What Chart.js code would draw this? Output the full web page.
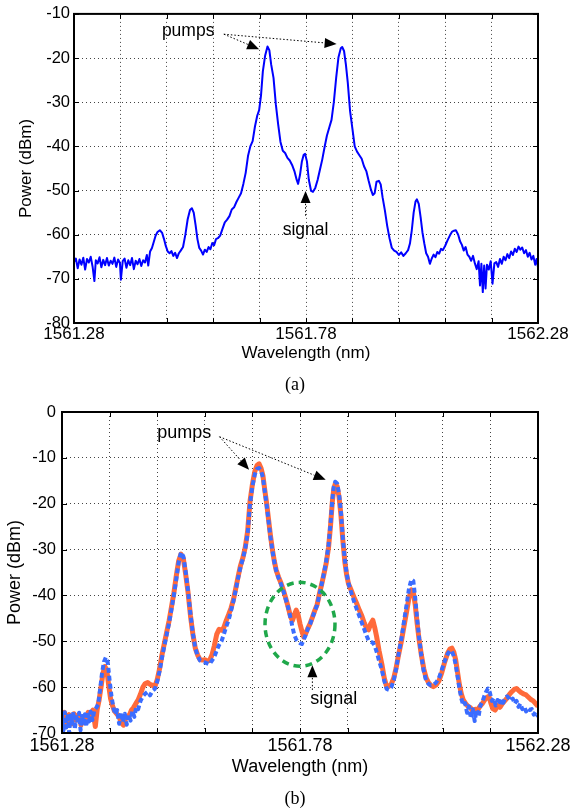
<!DOCTYPE html>
<html>
<head>
<meta charset="utf-8">
<script src="https://cdn.jsdelivr.net/npm/chart.js@4.4.0/dist/chart.umd.min.js"></script>
<style>
  html, body { margin: 0; padding: 0; background: #fff; }
  #page { position: relative; width: 574px; height: 810px; overflow: hidden; }
  canvas { position: absolute; left: 0; }
  .cap { position: absolute; width: 60px; text-align: center; font-family: "Liberation Serif", serif; font-size: 18px; line-height: 20px; color: #000; }
</style>
</head>
<body>
<div id="page">
  <canvas id="chartA" width="574" height="395" style="top:0"></canvas>
  <div class="cap" style="left:265px; top:374px">(a)</div>
  <canvas id="chartB" width="574" height="415" style="top:395px"></canvas>
  <div class="cap" style="left:265px; top:788px">(b)</div>
</div>
<script>
// ---- data ----
// x tick labels (grid every 0.1 nm in between)
const xTickLabels = [1561.28, 1561.78, 1562.28];
const yRangeA = [-80, -10];
const yRangeB = [-70, 0];

// (a) measured spectrum
const wlA = [
  1561.280, 1561.284, 1561.288, 1561.292, 1561.296, 1561.300, 1561.304, 1561.308, 1561.312, 1561.316,
  1561.320, 1561.324, 1561.327, 1561.331, 1561.335, 1561.339, 1561.343, 1561.347, 1561.351, 1561.355,
  1561.359, 1561.363, 1561.367, 1561.371, 1561.375, 1561.379, 1561.381, 1561.385, 1561.389, 1561.393,
  1561.397, 1561.401, 1561.405, 1561.409, 1561.413, 1561.417, 1561.421, 1561.425, 1561.429, 1561.433,
  1561.437, 1561.440, 1561.444, 1561.448, 1561.452, 1561.456, 1561.460, 1561.465, 1561.470, 1561.474,
  1561.478, 1561.482, 1561.486, 1561.490, 1561.494, 1561.498, 1561.502, 1561.506, 1561.510, 1561.515,
  1561.520, 1561.525, 1561.530, 1561.534, 1561.538, 1561.542, 1561.546, 1561.550, 1561.554, 1561.558,
  1561.562, 1561.566, 1561.570, 1561.574, 1561.578, 1561.582, 1561.586, 1561.590, 1561.595, 1561.600,
  1561.605, 1561.610, 1561.615, 1561.620, 1561.625, 1561.630, 1561.635, 1561.640, 1561.645, 1561.650,
  1561.655, 1561.660, 1561.665, 1561.670, 1561.675, 1561.679, 1561.683, 1561.687, 1561.692, 1561.697,
  1561.701, 1561.705, 1561.710, 1561.715, 1561.720, 1561.725, 1561.730, 1561.735, 1561.740, 1561.745,
  1561.750, 1561.755, 1561.760, 1561.763, 1561.767, 1561.771, 1561.775, 1561.778, 1561.782, 1561.786,
  1561.791, 1561.795, 1561.800, 1561.805, 1561.810, 1561.815, 1561.820, 1561.825, 1561.830, 1561.835,
  1561.840, 1561.845, 1561.850, 1561.855, 1561.858, 1561.862, 1561.866, 1561.870, 1561.875, 1561.880,
  1561.885, 1561.890, 1561.895, 1561.900, 1561.905, 1561.910, 1561.915, 1561.920, 1561.924, 1561.928,
  1561.932, 1561.937, 1561.941, 1561.945, 1561.950, 1561.955, 1561.960, 1561.965, 1561.970, 1561.975,
  1561.980, 1561.985, 1561.990, 1561.995, 1562.000, 1562.004, 1562.008, 1562.012, 1562.016, 1562.019,
  1562.023, 1562.027, 1562.031, 1562.035, 1562.039, 1562.043, 1562.047, 1562.051, 1562.055, 1562.059,
  1562.063, 1562.067, 1562.071, 1562.075, 1562.080, 1562.085, 1562.090, 1562.095, 1562.099, 1562.103,
  1562.108, 1562.112, 1562.116, 1562.120, 1562.124, 1562.128, 1562.132, 1562.136, 1562.140, 1562.144,
  1562.148, 1562.152, 1562.155, 1562.158, 1562.161, 1562.164, 1562.167, 1562.170, 1562.174, 1562.178,
  1562.182, 1562.186, 1562.190, 1562.194, 1562.198, 1562.202, 1562.206, 1562.210, 1562.214, 1562.218,
  1562.222, 1562.226, 1562.230, 1562.234, 1562.238, 1562.242, 1562.246, 1562.250, 1562.254, 1562.258,
  1562.262, 1562.266, 1562.270, 1562.274, 1562.277, 1562.280
];
const dbmA = [
  -66.2, -65.4, -67.6, -65.6, -66.8, -65.2, -67.9, -65.5, -66.3, -65.0,
  -67.2, -70.5, -65.8, -66.5, -65.1, -67.4, -65.7, -66.9, -65.3, -67.0,
  -65.9, -66.6, -65.2, -67.3, -65.6, -66.4, -70.2, -66.0, -65.4, -67.5,
  -65.8, -66.9, -65.3, -67.8, -65.9, -66.7, -65.5, -67.1, -65.8, -66.3,
  -64.6, -67.0, -63.8, -63.0, -61.6, -60.2, -59.4, -59.0, -59.6, -61.0,
  -62.6, -63.8, -64.2, -63.7, -64.8, -64.1, -65.3, -64.2, -63.6, -62.8,
  -60.0, -56.5, -54.4, -54.0, -55.0, -57.8, -61.0, -63.0, -63.6, -64.5,
  -63.4, -63.9, -62.8, -63.3, -61.9, -62.4, -61.0, -60.8, -60.2, -58.7,
  -57.2, -56.6, -55.8, -54.3, -53.8, -52.6, -51.6, -50.6, -48.5, -46.0,
  -42.2, -40.0, -38.8, -35.5, -33.0, -31.8, -28.5, -23.0, -19.4, -17.4,
  -18.2, -21.5, -24.5, -30.5, -35.0, -39.0, -41.0, -41.5, -42.6, -43.2,
  -44.2, -45.6, -47.6, -48.5, -46.5, -43.5, -41.9, -41.7, -43.4, -47.5,
  -50.1, -50.3, -49.4, -47.6, -45.3, -43.0, -40.2, -37.6, -35.8, -34.0,
  -30.0, -24.5, -19.8, -17.8, -17.5, -18.4, -21.5, -25.5, -32.0, -36.0,
  -40.0, -41.2, -42.0, -42.8, -44.5, -45.6, -47.8, -49.8, -51.0, -50.6,
  -48.0, -47.8, -48.6, -51.5, -54.5, -58.0, -60.8, -63.0, -63.6, -63.9,
  -64.6, -64.0, -64.8, -64.2, -63.5, -62.0, -59.0, -55.0, -52.5, -52.0,
  -53.0, -56.0, -59.5, -62.0, -64.2, -65.0, -66.6, -65.4, -64.5, -65.1,
  -63.9, -64.3, -63.2, -63.5, -62.5, -61.3, -60.2, -59.3, -59.1, -59.0,
  -60.0, -61.5, -62.3, -63.6, -62.8, -64.5, -65.0, -65.9, -64.8, -66.5,
  -67.8, -66.0, -71.5, -66.6, -73.0, -67.0, -72.2, -66.8, -67.9, -66.0,
  -71.1, -66.5, -66.2, -67.3, -65.5, -66.6, -65.0, -65.8, -64.4, -65.3,
  -63.8, -64.6, -63.2, -63.9, -62.7, -63.4, -62.9, -64.2, -63.5, -65.0,
  -64.1, -65.6, -64.8, -66.8, -65.5, -67.4
];

// (b) solid orange trace
const wlOrange = [
  1561.280, 1561.285, 1561.290, 1561.295, 1561.300, 1561.305, 1561.310, 1561.315, 1561.320, 1561.325,
  1561.330, 1561.335, 1561.340, 1561.345, 1561.350, 1561.354, 1561.358, 1561.362, 1561.366, 1561.370,
  1561.374, 1561.378, 1561.382, 1561.386, 1561.390, 1561.395, 1561.400, 1561.405, 1561.409, 1561.413,
  1561.418, 1561.422, 1561.426, 1561.430, 1561.435, 1561.440, 1561.445, 1561.450, 1561.455, 1561.460,
  1561.465, 1561.470, 1561.475, 1561.480, 1561.485, 1561.490, 1561.495, 1561.500, 1561.505, 1561.510,
  1561.515, 1561.520, 1561.525, 1561.530, 1561.535, 1561.540, 1561.545, 1561.550, 1561.555, 1561.560,
  1561.565, 1561.570, 1561.575, 1561.580, 1561.585, 1561.590, 1561.595, 1561.600, 1561.605, 1561.610,
  1561.615, 1561.620, 1561.625, 1561.630, 1561.635, 1561.640, 1561.645, 1561.650, 1561.655, 1561.660,
  1561.665, 1561.670, 1561.675, 1561.680, 1561.685, 1561.690, 1561.694, 1561.698, 1561.702, 1561.706,
  1561.710, 1561.714, 1561.718, 1561.722, 1561.726, 1561.730, 1561.735, 1561.740, 1561.745, 1561.750,
  1561.755, 1561.760, 1561.764, 1561.768, 1561.772, 1561.776, 1561.780, 1561.784, 1561.788, 1561.792,
  1561.796, 1561.801, 1561.806, 1561.811, 1561.816, 1561.820, 1561.825, 1561.830, 1561.835, 1561.840,
  1561.844, 1561.848, 1561.851, 1561.854, 1561.858, 1561.862, 1561.866, 1561.870, 1561.874, 1561.878,
  1561.882, 1561.886, 1561.890, 1561.895, 1561.900, 1561.905, 1561.910, 1561.915, 1561.920, 1561.924,
  1561.928, 1561.933, 1561.937, 1561.941, 1561.946, 1561.952, 1561.957, 1561.962, 1561.967, 1561.972,
  1561.977, 1561.982, 1561.987, 1561.993, 1561.998, 1562.004, 1562.009, 1562.014, 1562.018, 1562.022,
  1562.026, 1562.030, 1562.035, 1562.040, 1562.045, 1562.050, 1562.055, 1562.060, 1562.066, 1562.072,
  1562.078, 1562.084, 1562.090, 1562.095, 1562.099, 1562.103, 1562.107, 1562.111, 1562.115, 1562.119,
  1562.123, 1562.128, 1562.133, 1562.138, 1562.143, 1562.148, 1562.153, 1562.158, 1562.163, 1562.168,
  1562.173, 1562.177, 1562.181, 1562.185, 1562.190, 1562.195, 1562.200, 1562.205, 1562.210, 1562.215,
  1562.220, 1562.225, 1562.230, 1562.235, 1562.240, 1562.245, 1562.250, 1562.255, 1562.260, 1562.265,
  1562.270, 1562.275, 1562.280
];
const dbmOrange = [
  -67.0, -65.5, -67.8, -66.0, -68.0, -65.8, -67.2, -66.0, -68.3, -66.4,
  -67.0, -65.5, -66.3, -65.0, -68.6, -64.8, -62.8, -60.0, -57.0, -55.5,
  -56.2, -59.5, -62.5, -64.0, -65.2, -65.8, -66.5, -67.8, -68.3, -67.0,
  -66.4, -66.0, -65.0, -64.5, -63.6, -62.8, -61.5, -60.0, -59.2, -59.0,
  -59.4, -59.6, -59.9, -58.4, -56.0, -53.0, -50.5, -48.0, -45.5, -42.5,
  -39.5, -35.8, -32.5, -31.0, -32.0, -35.5, -39.5, -44.5, -48.5, -51.5,
  -53.0, -54.0, -54.1, -54.0, -54.3, -54.2, -53.0, -51.0, -48.5, -47.4,
  -47.6, -47.0, -45.5, -44.2, -42.8, -41.0, -38.5, -35.9, -33.5, -31.8,
  -29.5, -26.0, -19.5, -15.8, -13.0, -11.6, -11.3, -12.2, -13.8, -17.0,
  -20.0, -23.5, -27.0, -30.0, -32.5, -34.5, -36.0, -37.3, -38.8, -40.6,
  -42.5, -44.6, -45.5, -44.3, -43.2, -44.2, -46.2, -47.8, -49.1, -48.3,
  -47.3, -46.2, -44.8, -43.3, -42.0, -40.0, -37.8, -35.5, -33.0, -29.5,
  -25.0, -19.5, -16.8, -15.7, -16.2, -18.5, -22.5, -28.0, -32.5, -35.5,
  -37.5, -38.5, -39.5, -40.8, -42.0, -43.3, -44.5, -46.0, -47.2, -47.5,
  -46.3, -45.4, -47.0, -49.0, -52.0, -55.0, -58.0, -59.9, -59.8, -59.3,
  -58.0, -55.8, -53.0, -50.0, -47.0, -43.5, -40.5, -38.8, -39.2, -42.0,
  -46.0, -49.5, -53.0, -56.0, -58.0, -59.0, -59.6, -59.9, -59.5, -58.6,
  -56.8, -54.5, -52.6, -51.7, -51.5, -52.3, -54.0, -56.8, -59.5, -61.5,
  -62.8, -63.6, -64.2, -64.5, -65.2, -64.8, -65.0, -64.2, -63.6, -62.8,
  -62.2, -62.0, -63.5, -64.7, -65.0, -64.0, -64.4, -63.6, -63.0, -62.4,
  -61.6, -61.0, -60.5, -60.3, -60.8, -61.2, -61.5, -61.7, -62.2, -62.7,
  -63.0, -63.6, -64.2
];

// (b) dashed blue trace
const wlBlue = [
  1561.280, 1561.283, 1561.286, 1561.289, 1561.292, 1561.295, 1561.298, 1561.301, 1561.304, 1561.307,
  1561.310, 1561.313, 1561.316, 1561.319, 1561.322, 1561.325, 1561.328, 1561.331, 1561.334, 1561.337,
  1561.340, 1561.344, 1561.348, 1561.352, 1561.356, 1561.360, 1561.364, 1561.368, 1561.372, 1561.376,
  1561.380, 1561.384, 1561.388, 1561.392, 1561.396, 1561.400, 1561.404, 1561.408, 1561.412, 1561.416,
  1561.420, 1561.424, 1561.428, 1561.432, 1561.436, 1561.440, 1561.445, 1561.450, 1561.455, 1561.460,
  1561.465, 1561.470, 1561.475, 1561.480, 1561.485, 1561.490, 1561.495, 1561.500, 1561.505, 1561.510,
  1561.515, 1561.520, 1561.525, 1561.530, 1561.535, 1561.540, 1561.545, 1561.550, 1561.555, 1561.560,
  1561.565, 1561.570, 1561.575, 1561.580, 1561.585, 1561.590, 1561.595, 1561.600, 1561.605, 1561.610,
  1561.615, 1561.620, 1561.625, 1561.630, 1561.635, 1561.640, 1561.645, 1561.650, 1561.655, 1561.660,
  1561.665, 1561.670, 1561.675, 1561.680, 1561.685, 1561.690, 1561.694, 1561.698, 1561.702, 1561.706,
  1561.710, 1561.714, 1561.718, 1561.722, 1561.726, 1561.730, 1561.735, 1561.740, 1561.745, 1561.750,
  1561.755, 1561.760, 1561.764, 1561.768, 1561.772, 1561.776, 1561.780, 1561.784, 1561.788, 1561.792,
  1561.796, 1561.801, 1561.806, 1561.811, 1561.816, 1561.820, 1561.825, 1561.830, 1561.835, 1561.840,
  1561.844, 1561.848, 1561.851, 1561.854, 1561.858, 1561.862, 1561.866, 1561.870, 1561.874, 1561.878,
  1561.882, 1561.886, 1561.890, 1561.895, 1561.900, 1561.905, 1561.910, 1561.915, 1561.920, 1561.924,
  1561.928, 1561.933, 1561.937, 1561.941, 1561.946, 1561.952, 1561.957, 1561.962, 1561.967, 1561.972,
  1561.977, 1561.982, 1561.987, 1561.993, 1561.998, 1562.004, 1562.009, 1562.014, 1562.018, 1562.022,
  1562.026, 1562.030, 1562.035, 1562.040, 1562.045, 1562.050, 1562.055, 1562.060, 1562.066, 1562.072,
  1562.078, 1562.084, 1562.090, 1562.095, 1562.099, 1562.103, 1562.107, 1562.111, 1562.115, 1562.119,
  1562.123, 1562.127, 1562.131, 1562.135, 1562.139, 1562.143, 1562.147, 1562.151, 1562.155, 1562.159,
  1562.163, 1562.167, 1562.171, 1562.175, 1562.179, 1562.183, 1562.187, 1562.191, 1562.195, 1562.199,
  1562.203, 1562.207, 1562.211, 1562.215, 1562.219, 1562.223, 1562.227, 1562.231, 1562.235, 1562.239,
  1562.243, 1562.247, 1562.251, 1562.255, 1562.259, 1562.263, 1562.267, 1562.271, 1562.275, 1562.280
];
const dbmBlue = [
  -66.0, -69.5, -65.5, -68.8, -65.8, -70.0, -66.2, -68.5, -65.4, -69.2,
  -66.0, -68.0, -65.6, -69.4, -66.3, -67.8, -65.9, -68.6, -66.0, -67.5,
  -65.3, -67.2, -65.0, -64.5, -63.8, -60.5, -57.0, -54.5, -53.5, -54.5,
  -58.5, -62.0, -64.5, -66.0, -65.0, -68.0, -65.5, -67.6, -65.8, -68.2,
  -66.0, -67.3, -65.2, -66.5, -64.3, -64.8, -63.0, -62.0, -61.4, -61.0,
  -61.8, -60.8, -60.4, -58.8, -56.5, -53.6, -51.0, -48.5, -46.0, -43.0,
  -40.0, -36.5, -32.8, -30.6, -31.5, -35.0, -39.2, -44.2, -48.3, -51.5,
  -53.2, -54.2, -54.5, -54.6, -54.8, -55.0, -54.2, -53.4, -52.0, -50.8,
  -50.0, -48.5, -46.8, -45.4, -43.4, -41.3, -38.8, -36.2, -33.8, -32.0,
  -29.8, -26.5, -20.0, -16.2, -13.6, -12.4, -12.2, -12.8, -14.2, -17.3,
  -20.3, -23.8, -27.3, -30.2, -32.7, -34.6, -36.2, -37.5, -39.0, -40.8,
  -42.6, -44.8, -46.8, -48.6, -49.6, -50.1, -50.4, -50.6, -49.6, -48.6,
  -47.4, -46.3, -44.9, -43.4, -42.1, -40.2, -37.8, -35.3, -32.6, -29.0,
  -24.5, -19.0, -16.2, -15.2, -15.6, -17.8, -21.8, -27.5, -32.0, -35.2,
  -37.4, -38.8, -40.2, -41.8, -43.2, -44.6, -46.0, -47.4, -48.8, -49.8,
  -50.1, -50.3, -51.0, -52.3, -54.2, -56.3, -58.6, -60.4, -60.6, -60.0,
  -58.5, -56.0, -52.8, -49.5, -46.0, -42.0, -38.5, -36.5, -36.8, -40.5,
  -45.0, -49.0, -53.2, -56.5, -58.6, -59.3, -59.6, -59.5, -59.0, -58.0,
  -56.2, -54.3, -52.8, -52.0, -52.2, -53.2, -55.0, -57.6, -60.3, -62.5,
  -64.0, -63.5, -65.6, -64.2, -66.8, -64.8, -67.4, -65.0, -66.5, -64.0,
  -63.2, -62.0, -61.0, -60.3, -61.2, -63.0, -62.4, -64.0, -62.8, -63.8,
  -62.6, -63.4, -62.3, -62.0, -62.4, -63.0, -62.5, -63.6, -63.0, -64.3,
  -63.6, -64.8, -64.2, -65.3, -64.6, -65.0, -64.8, -66.0, -65.4, -66.4
];

// annotations, in data units
const notesA = {
  fontSize: 17.5,
  texts: [
    { text: 'pumps', x: 1561.526, y: -14.0 },
    { text: 'signal', x: 1561.779, y: -59.0 }
  ],
  arrows: [
    { from: [1561.603, -14.6], to: [1561.679, -18.0] },
    { from: [1561.603, -14.6], to: [1561.846, -16.8] },
    { from: [1561.779, -55.7], to: [1561.779, -50.1] }
  ],
  rings: []
};
const notesB = {
  fontSize: 18,
  texts: [
    { text: 'pumps', x: 1561.537, y: -4.6 },
    { text: 'signal', x: 1561.851, y: -62.6 }
  ],
  arrows: [
    { from: [1561.611, -5.4], to: [1561.673, -12.6] },
    { from: [1561.611, -5.4], to: [1561.834, -14.8] },
    { from: [1561.806, -60.6], to: [1561.806, -55.2] }
  ],
  rings: [ { x: 1561.78, y: -46.3, rx: 0.0735, ry: 9.15 } ]
};

const pairs = (xs, ys) => xs.map((x, i) => ({ x: x, y: ys[i] }));

function drawArrow(ctx, x0, y0, x1, y1) {
  const ang = Math.atan2(y1 - y0, x1 - x0);
  const len = 12, half = 5;
  const bx = x1 - len * Math.cos(ang), by = y1 - len * Math.sin(ang);
  ctx.setLineDash([1.5, 2]);
  ctx.lineWidth = 1;
  ctx.beginPath();
  ctx.moveTo(x0, y0);
  ctx.lineTo(bx, by);
  ctx.stroke();
  ctx.setLineDash([]);
  ctx.beginPath();
  ctx.moveTo(x1, y1);
  ctx.lineTo(bx + half * Math.sin(ang), by - half * Math.cos(ang));
  ctx.lineTo(bx - half * Math.sin(ang), by + half * Math.cos(ang));
  ctx.closePath();
  ctx.fill();
}

// box, inner ticks and the labels/arrows on top of the traces
function framePlugin(notes) {
  return {
    id: 'frameNotes',
    afterDatasetsDraw(chart) {
      const { ctx, chartArea: a, scales } = chart;
      const xs = scales.x, ys = scales.y;
      ctx.save();
      ctx.strokeStyle = '#000';
      ctx.fillStyle = '#000';
      ctx.lineWidth = 1;
      ctx.beginPath();
      xs.ticks.forEach(t => {
        const px = Math.round(xs.getPixelForValue(t.value)) + 0.5;
        ctx.moveTo(px, a.bottom); ctx.lineTo(px, a.bottom - 5);
        ctx.moveTo(px, a.top); ctx.lineTo(px, a.top + 5);
      });
      ys.ticks.forEach(t => {
        const py = Math.round(ys.getPixelForValue(t.value)) + 0.5;
        ctx.moveTo(a.left, py); ctx.lineTo(a.left + 5, py);
        ctx.moveTo(a.right, py); ctx.lineTo(a.right - 5, py);
      });
      ctx.stroke();
      ctx.lineWidth = 2;
      ctx.strokeRect(a.left, a.top, a.right - a.left, a.bottom - a.top);

      notes.rings.forEach(r => {
        const cx = xs.getPixelForValue(r.x), cy = ys.getPixelForValue(r.y);
        const rx = Math.abs(xs.getPixelForValue(r.x + r.rx) - cx);
        const ry = Math.abs(ys.getPixelForValue(r.y + r.ry) - cy);
        ctx.strokeStyle = '#1fa84a';
        ctx.lineWidth = 3.5;
        ctx.setLineDash([7, 5]);
        ctx.beginPath();
        ctx.ellipse(cx, cy, rx, ry, 0, 0, Math.PI * 2);
        ctx.stroke();
      });
      ctx.setLineDash([]);
      ctx.strokeStyle = '#000';
      notes.arrows.forEach(ar => {
        drawArrow(ctx,
          xs.getPixelForValue(ar.from[0]), ys.getPixelForValue(ar.from[1]),
          xs.getPixelForValue(ar.to[0]), ys.getPixelForValue(ar.to[1]));
      });
      ctx.font = notes.fontSize + 'px "Liberation Sans", Arial, sans-serif';
      ctx.textAlign = 'center';
      ctx.textBaseline = 'middle';
      notes.texts.forEach(t => {
        ctx.fillText(t.text, xs.getPixelForValue(t.x), ys.getPixelForValue(t.y));
      });
      ctx.restore();
    }
  };
}

function buildOptions(cfg) {
  const family = '"Liberation Sans", Arial, sans-serif';
  return {
    responsive: false,
    animation: false,
    devicePixelRatio: 1,
    layout: { padding: cfg.padding },
    plugins: { legend: { display: false }, tooltip: { enabled: false } },
    elements: { point: { radius: 0 }, line: { tension: 0, borderJoinStyle: 'round' } },
    scales: {
      x: {
        type: 'linear',
        min: xTickLabels[0],
        max: xTickLabels[xTickLabels.length - 1],
        afterFit: s => { s.height = cfg.xHeight; },
        ticks: {
          stepSize: 0.1,
          maxTicksLimit: 20,
          autoSkip: false,
          maxRotation: 0,
          minRotation: 0,
          padding: cfg.xPad,
          color: '#000',
          font: { family: family, size: cfg.xTickSize },
          callback: v => xTickLabels.some(t => Math.abs(t - v) < 1e-6) ? Number(v).toFixed(2) : ''
        },
        grid: { color: '#444', lineWidth: 1, drawTicks: false },
        border: { display: false, dash: [1, 3] },
        title: {
          display: true, text: 'Wavelength (nm)', color: '#000',
          font: { family: family, size: cfg.titleSize },
          padding: { top: 4, bottom: 4 }
        }
      },
      y: {
        min: cfg.yRange[0],
        max: cfg.yRange[1],
        afterFit: s => { s.width = cfg.yWidth; },
        ticks: {
          stepSize: 10,
          padding: cfg.yPad,
          color: '#000',
          font: { family: family, size: 16.5 },
          callback: v => String(v)
        },
        grid: { color: '#444', lineWidth: 1, drawTicks: false },
        border: { display: false, dash: [1, 3] },
        title: {
          display: true, text: 'Power (dBm)', color: '#000',
          font: { family: family, size: cfg.titleSize },
          padding: { top: cfg.yTitlePad, bottom: 0 }
        }
      }
    }
  };
}

new Chart(document.getElementById('chartA'), {
  type: 'line',
  data: {
    datasets: [{
      data: pairs(wlA, dbmA),
      borderColor: '#0000ff',
      borderWidth: 2
    }]
  },
  options: buildOptions({
    padding: { top: 12, right: 36, bottom: 27, left: 0 },
    xHeight: 45, yWidth: 74, xPad: 1, yPad: 4, yTitlePad: 16,
    xTickSize: 17, titleSize: 17, yRange: yRangeA
  }),
  plugins: [framePlugin(notesA)]
});

new Chart(document.getElementById('chartB'), {
  type: 'line',
  data: {
    datasets: [
      {
        data: pairs(wlBlue, dbmBlue),
        borderColor: '#3a6cff',
        borderWidth: 4,
        borderDash: [5, 3]
      },
      {
        data: pairs(wlOrange, dbmOrange),
        borderColor: '#ff6a3a',
        borderWidth: 5
      }
    ]
  },
  options: buildOptions({
    padding: { top: 17, right: 36, bottom: 28, left: 0 },
    xHeight: 49, yWidth: 62, xPad: 2, yPad: 6, yTitlePad: 4,
    xTickSize: 18, titleSize: 18, yRange: yRangeB
  }),
  plugins: [framePlugin(notesB)]
});
</script>
</body>
</html>
